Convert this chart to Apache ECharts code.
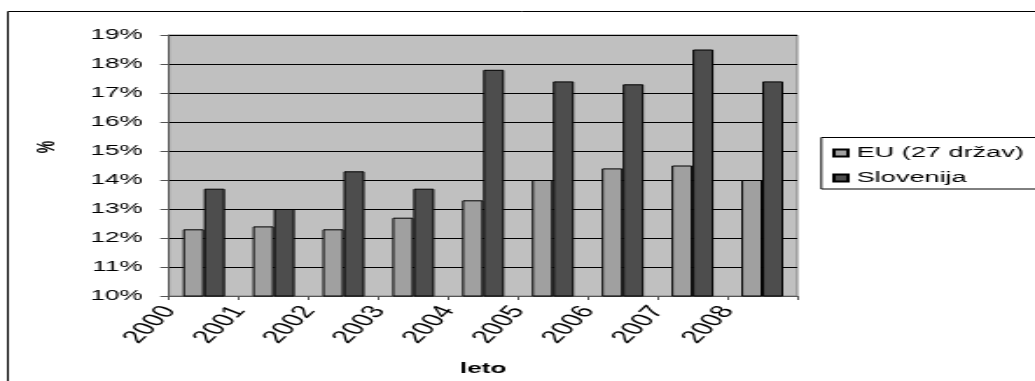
<!DOCTYPE html>
<html>
<head>
<meta charset="utf-8">
<script src="https://cdn.jsdelivr.net/npm/echarts@6/dist/echarts.min.js"></script>
<style>
  html, body { margin: 0; padding: 0; background: #fff; overflow: hidden; }
  #wrap { width: 1035px; height: 381px; overflow: hidden; }
  /* the chart is laid out narrow and widened horizontally */
  #chart { width: 592px; height: 381px; transform: scaleX(1.7483); transform-origin: 0 0; }
</style>
</head>
<body>
<div id="wrap"><div id="chart"></div></div>
<script>
const years = ['2000', '2001', '2002', '2003', '2004', '2005', '2006', '2007', '2008'];
const yearLabels = ['2000', '2001', '2002', '2003', '2004', '2005', '2006', '2007', '2008', ''];
const euValues = [12.3, 12.4, 12.3, 12.7, 13.3, 14.0, 14.4, 14.5, 14.0];
const sloValues = [13.7, 13.0, 14.3, 13.7, 17.8, 17.4, 17.3, 18.5, 17.4];
const seriesNames = ['EU (27 držav)', 'Slovenija'];
const yMin = 10, yMax = 19, yStep = 1;

const FONT = '"Liberation Sans", Arial, sans-serif';
const chart = echarts.init(document.getElementById('chart'), null, { renderer: 'canvas' });

chart.setOption({
  animation: false,
  backgroundColor: '#ffffff',
  textStyle: { fontFamily: FONT, color: '#000' },
  graphic: [
    // outer frame of the chart area (runs off the right and bottom edges)
    {
      type: 'rect', silent: true, z: -1,
      shape: { x: 4.5, y: 11.5, width: 800, height: 600 },
      style: { fill: 'none', stroke: '#000', lineWidth: 1 }
    },
    // legend frame, continuing past the right edge
    {
      type: 'rect', silent: true, z: -1,
      shape: { x: 469.8, y: 137.5, width: 300, height: 51.5 },
      style: { fill: '#fff', stroke: '#000', lineWidth: 1 }
    },
    {
      type: 'text', silent: true,
      x: 27, y: 147, rotation: Math.PI / 2,
      style: { text: '%', font: 'bold 14px ' + FONT, fill: '#000', align: 'center', verticalAlign: 'middle' }
    }
  ],
  grid: {
    left: 96.7, top: 35, width: 359.3, height: 262,
    show: true, backgroundColor: '#c0c0c0', borderColor: '#808080', borderWidth: 1
  },
  legend: {
    orient: 'vertical',
    left: 470, top: 137,
    padding: [8, 0, 5, 6],
    itemGap: 9,
    itemWidth: 8, itemHeight: 7,
    icon: 'rect',
    borderWidth: 0,
    textStyle: { fontFamily: FONT, fontSize: 15.5, color: '#000' },
    data: seriesNames
  },
  xAxis: [
    {
      type: 'category',
      data: years,
      boundaryGap: true,
      axisLine: { lineStyle: { color: '#555', width: 1 } },
      axisTick: { show: true, length: 4, lineStyle: { color: '#555' } },
      axisLabel: { show: false },
      splitLine: { show: false },
      name: 'leto',
      nameLocation: 'middle',
      nameGap: 65,
      nameTextStyle: { fontFamily: FONT, fontWeight: 'bold', fontSize: 15, color: '#000' }
    },
    {
      type: 'category',
      data: yearLabels,
      boundaryGap: false,
      position: 'bottom',
      axisLine: { show: false },
      axisTick: { show: false },
      splitLine: { show: false },
      axisLabel: { interval: 0, rotate: 57, margin: 12, fontFamily: FONT, fontSize: 18, color: '#000' }
    }
  ],
  yAxis: {
    type: 'value',
    min: yMin, max: yMax, interval: yStep,
    axisLine: { show: true, lineStyle: { color: '#555', width: 1 } },
    axisTick: { show: true, length: 5, lineStyle: { color: '#555' } },
    axisLabel: { margin: 15, fontFamily: FONT, fontSize: 15, color: '#000', formatter: '{value}%' },
    splitLine: { show: true, lineStyle: { color: '#000', width: 1 } }
  },
  series: [
    {
      name: seriesNames[0], type: 'bar', xAxisIndex: 0,
      data: euValues,
      barGap: '0%', barCategoryGap: '40%',
      itemStyle: { color: '#a0a0a0', borderColor: '#000', borderWidth: 1 }
    },
    {
      name: seriesNames[1], type: 'bar', xAxisIndex: 0,
      data: sloValues,
      barGap: '0%', barCategoryGap: '40%',
      itemStyle: { color: '#4d4d4d', borderColor: '#000', borderWidth: 1 }
    }
  ]
});
</script>
</body>
</html>
